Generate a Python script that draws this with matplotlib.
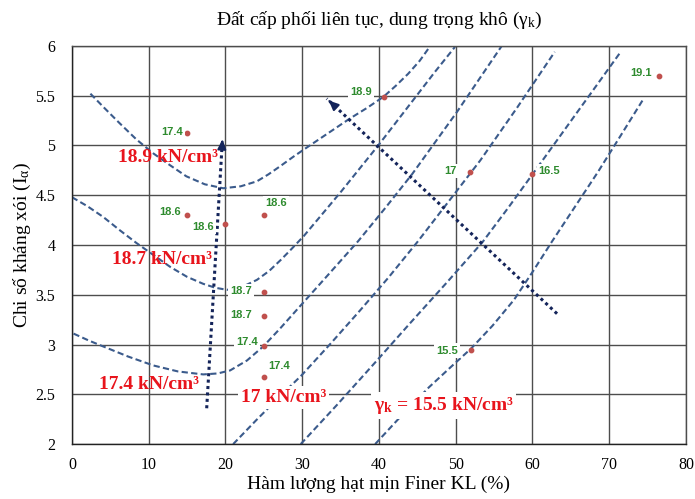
import matplotlib
matplotlib.use("Agg")
import matplotlib.pyplot as plt

plt.rcParams['font.family'] = ['Liberation Serif', 'DejaVu Serif']
plt.rcParams['mathtext.fontset'] = 'custom'
plt.rcParams['mathtext.rm'] = 'Liberation Serif'
plt.rcParams['mathtext.it'] = 'Liberation Serif:italic'
plt.rcParams['mathtext.bf'] = 'Liberation Serif:bold'

# ---- data: measured points ----
pt_x = [15, 15, 20, 25, 25, 25, 25, 25, 40.6, 51.9, 60, 76.5, 52]
pt_y = [5.13, 4.30, 4.21, 4.30, 3.53, 3.29, 2.985, 2.67, 5.49, 4.73, 4.71, 5.70, 2.95]
pt_lab = ["17.4", "18.6", "18.6", "18.6", "18.7", "18.7", "17.4", "17.4",
          "18.9", "17", "16.5", "19.1", "15.5"]

# ---- iso-density curves ----
c189_x = [2.4, 4.3, 6.25, 8.4, 10.6, 12.8, 14.9, 17.3, 19.7, 22.0, 24.1, 25.6,
          27.1, 28.9, 30.8, 33.5, 36.2, 38.5, 40.6, 42.2, 43.8, 45.3, 46.6]
c189_y = [5.52, 5.37, 5.22, 5.06, 4.92, 4.80, 4.69, 4.61, 4.57, 4.59, 4.64, 4.71,
          4.79, 4.89, 4.99, 5.13, 5.27, 5.38, 5.49, 5.60, 5.72, 5.85, 5.99]
c187_x = [0, 2.0, 4.1, 6.2, 8.4, 10.6, 12.8, 15.0, 17.1, 18.7, 20.2, 22.2,
          24.1, 25.7, 27.2, 28.6, 30.2, 32.6, 35.1, 37.5, 39.9, 42.3, 44.7, 47.3, 49.9]
c187_y = [4.48, 4.39, 4.28, 4.15, 4.02, 3.90, 3.78, 3.68, 3.61, 3.57, 3.55, 3.58,
          3.65, 3.74, 3.85, 3.96, 4.09, 4.31, 4.54, 4.77, 5.00, 5.24, 5.48, 5.74, 5.99]
c174_x = [0.2, 2.2, 4.1, 7.3, 10.6, 13.8, 17.1, 19.0, 20.6, 22.8, 24.9, 27.1,
          30.0, 33.6, 37.3, 40.8, 44.3, 47.2, 50.1, 53.0, 56.0]
c174_y = [3.11, 3.04, 2.98, 2.88, 2.79, 2.73, 2.70, 2.71, 2.74, 2.84, 2.98, 3.16,
          3.41, 3.72, 4.04, 4.37, 4.71, 5.02, 5.33, 5.66, 6.0]
c170_x = [21.0, 24.0, 27.1, 29.9, 33.7, 37.5, 41.2, 45.0, 49.0, 53.2, 58.0, 62.9]
c170_y = [2.0, 2.24, 2.48, 2.69, 3.01, 3.34, 3.67, 4.03, 4.43, 4.85, 5.38, 5.94]
c165_x = [29.8, 34.6, 39.5, 44.0, 48.8, 53.5, 56.8, 60.0, 62.9, 65.7, 68.6, 71.4]
c165_y = [2.0, 2.40, 2.82, 3.21, 3.62, 4.03, 4.37, 4.71, 5.02, 5.32, 5.63, 5.93]
c155_x = [39.5, 42.5, 46.5, 49.3, 52.0, 54.8, 57.6, 60.1, 62.5, 65.5, 68.5, 71.5, 74.4]
c155_y = [2.0, 2.25, 2.57, 2.77, 2.96, 3.19, 3.45, 3.74, 4.03, 4.38, 4.73, 5.10, 5.46]

# ---- trend arrows ----
arr1_x = [17.55, 19.6]
arr1_y = [2.36, 5.06]
arr2_x = [63.2, 33.2]
arr2_y = [3.31, 5.47]

xticks = [0, 10, 20, 30, 40, 50, 60, 70, 80]
yticks = [2, 2.5, 3, 3.5, 4, 4.5, 5, 5.5, 6]
ytick_labels = ["2", "2.5", "3", "3.5", "4", "4.5", "5", "5.5", "6"]

fig = plt.figure(figsize=(6.95, 4.99), dpi=100)
ax = fig.add_axes([0.1036, 0.110, 0.8834, 0.798])
ax.set_xlim(0, 80)
ax.set_ylim(2, 6)
ax.set_xticks(xticks)
ax.set_yticks(yticks)
ax.set_yticklabels(ytick_labels)
ax.tick_params(length=0, labelsize=11.5)
ax.tick_params(axis='x', pad=9)
ax.tick_params(axis='y', pad=12)
ax.grid(True, color='#4d4d4d', linewidth=1.0)
ax.set_axisbelow(True)
for s in ax.spines.values():
    s.set_color('#4d4d4d')
    s.set_linewidth(1.0)
ax.spines['bottom'].set_color('#222222')
ax.spines['left'].set_color('#222222')

curve_col = '#3b5b8c'
dash = (0, (3.0, 1.6))
for cx, cy in [(c189_x, c189_y), (c187_x, c187_y), (c174_x, c174_y),
               (c170_x, c170_y), (c165_x, c165_y), (c155_x, c155_y)]:
    ax.plot(cx, cy, color=curve_col, linestyle=dash, linewidth=1.5, zorder=2,
            solid_joinstyle='round', dash_joinstyle='round')

arr_col = '#14245a'
for axx, ayy in [(arr1_x, arr1_y), (arr2_x, arr2_y)]:
    ax.plot(axx[:2], ayy[:2], color=arr_col, linestyle=(0, (1, 1.1)), linewidth=2.2, zorder=3)
    ax.annotate('', xy=(axx[1], ayy[1]),
                xytext=(axx[1] - (axx[1] - axx[0]) * 0.02, ayy[1] - (ayy[1] - ayy[0]) * 0.02),
                arrowprops=dict(arrowstyle='-|>,head_length=0.55,head_width=0.25',
                                color=arr_col, lw=1.5), zorder=4)

ax.scatter(pt_x, pt_y, s=10, color='#c0504d', zorder=5)

green = '#2e8b2e'
# label offsets: (dx, dy, ha)
lab_pos = [(-0.6, 0.01, 'right'), (-0.8, 0.03, 'right'), (-1.5, -0.03, 'right'),
           (0.2, 0.12, 'left'), (-1.5, 0.01, 'right'), (-1.5, 0.01, 'right'),
           (-0.8, 0.045, 'right'), (0.6, 0.11, 'left'),
           (-1.5, 0.05, 'right'), (-1.8, 0.01, 'right'), (0.8, 0.03, 'left'),
           (-0.9, 0.03, 'right'), (-1.7, -0.01, 'right')]
for x, y, t, (dx, dy, ha) in zip(pt_x, pt_y, pt_lab, lab_pos):
    ax.text(x + dx, y + dy, t, ha=ha, va='center', color=green, fontsize=8,
            fontweight='bold', family=['Liberation Sans'], zorder=6,
            bbox=dict(facecolor='white', edgecolor='none', pad=1.5))

red = '#e8141c'
rk = dict(color=red, fontsize=14, fontweight='bold', va='center', ha='left', zorder=6)
ax.text(6.0, 4.88, '18.9 kN/cm³', **rk)
ax.text(5.2, 3.85, '18.7 kN/cm³', **rk)
ax.text(3.5, 2.60, '17.4 kN/cm³', **rk)
ax.text(22.0, 2.47, '17 kN/cm³', bbox=dict(facecolor='white', edgecolor='none', pad=2), **rk)
ax.text(39.3, 2.39, r'γ$_{\mathbf{k}}$ = 15.5 kN/cm³',
        bbox=dict(facecolor='white', edgecolor='none', pad=2), **rk)

ax.set_xlabel('Hàm lượng hạt mịn Finer KL (%)', fontsize=14, labelpad=2)
ax.set_ylabel(r'Chi số kháng xói (I$_{\mathrm{\alpha}}$)', fontsize=14, labelpad=2)
ax.set_title(r'Đất cấp phối liên tục, dung trọng khô (γ$_{\mathrm{k}}$)', fontsize=14, pad=15)

fig.savefig('out.png', dpi=100)
